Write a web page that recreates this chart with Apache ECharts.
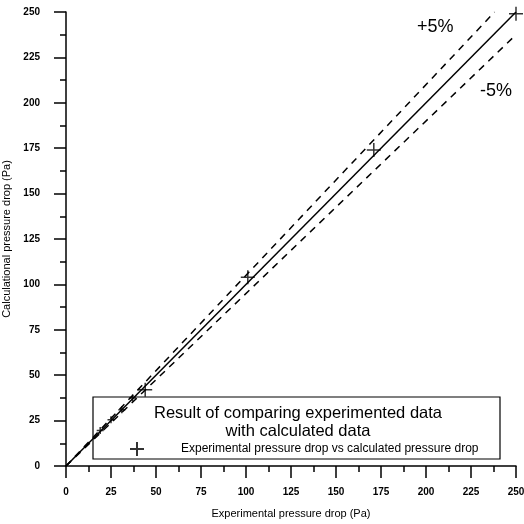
<!DOCTYPE html>
<html>
<head>
<meta charset="utf-8">
<script src="https://cdn.jsdelivr.net/npm/echarts@6/dist/echarts.min.js"></script>
<style>
  html, body { margin: 0; padding: 0; background: #fff; }
  #chart { width: 524px; height: 524px; }
</style>
</head>
<body>
<div id="chart"></div>
<script>
// measured points: [experimental, calculated]
const points = [
  [19, 19.5], [25, 25.5], [31, 31], [37, 37.5],
  [44, 42], [101, 104], [171, 174], [250, 249]
];
// reference lines (y = x, +5 %, -5 %)
const equalLine = [[0, 0], [250, 250]];
const plusLine = [[0, 0], [238.1, 250]];
const minusLine = [[0, 0], [250, 237.5]];
const axisTicks = [0, 25, 50, 75, 100, 125, 150, 175, 200, 225, 250];

const tickFont = 'Liberation Sans Narrow, Liberation Sans, sans-serif';
const chart = echarts.init(document.getElementById('chart'), null, { renderer: 'canvas' });

const axisProps = {
  min: axisTicks[0],
  max: axisTicks[axisTicks.length - 1],
  interval: 25,
  nameLocation: 'middle',
  nameTextStyle: { color: '#000', fontSize: 11, fontFamily: 'Liberation Sans, sans-serif' },
  axisLine: { show: true, onZero: false, lineStyle: { color: '#000', width: 1.5 } },
  axisTick: { show: true, inside: false, length: 12, lineStyle: { color: '#000', width: 1.5 } },
  minorTick: { show: true, splitNumber: 2, length: 6, lineStyle: { color: '#000', width: 1.5 } },
  axisLabel: { color: '#000', fontSize: 10, fontWeight: 'bold', fontFamily: tickFont, showMaxLabel: true, showMinLabel: true },
  splitLine: { show: false },
};

chart.setOption({
  animation: false,
  backgroundColor: '#fff',
  grid: { left: 66, right: 8, top: 12, bottom: 58, outerBoundsMode: 'none', containLabel: false },
  xAxis: {
    type: 'value',
    name: 'Experimental pressure drop (Pa)',
    nameGap: 42,
    ...axisProps,
    axisLabel: { ...axisProps.axisLabel, margin: 21 },
  },
  yAxis: {
    type: 'value',
    name: 'Calculational pressure drop (Pa)',
    nameGap: 50,
    ...axisProps,
    axisLabel: { ...axisProps.axisLabel, margin: 26 },
  },
  legend: {
    left: 124,
    top: 436,
    itemWidth: 14,
    itemHeight: 14,
    data: [{ name: 'Experimental pressure drop vs calculated pressure drop' }],
    textStyle: {
      color: '#000', fontSize: 12, fontFamily: 'Liberation Sans, sans-serif',
      padding: [0, 0, 0, 32],
    },
  },
  graphic: [
    {
      type: 'rect',
      z: 0,
      shape: { x: 93, y: 397, width: 407, height: 62 },
      style: { fill: 'transparent', stroke: '#000', lineWidth: 1.2 },
    },
    {
      type: 'text',
      x: 298, y: 404,
      style: {
        text: 'Result of comparing experimented data\nwith calculated data',
        fill: '#000', font: '16.5px Liberation Sans, sans-serif',
        align: 'center', lineHeight: 18,
      },
    },
    {
      type: 'text', x: 417, y: 18,
      style: { text: '+5%', fill: '#000', font: '18px Liberation Sans, sans-serif' },
    },
    {
      type: 'text', x: 480, y: 82,
      style: { text: '-5%', fill: '#000', font: '18px Liberation Sans, sans-serif' },
    },
  ],
  series: [
    {
      type: 'line', data: equalLine, showSymbol: false, silent: true, z: 2,
      lineStyle: { color: '#000', width: 1.5 },
    },
    {
      type: 'line', data: plusLine, showSymbol: false, silent: true, z: 2,
      lineStyle: { color: '#000', width: 1.5, type: [7, 6] },
    },
    {
      type: 'line', data: minusLine, showSymbol: false, silent: true, z: 2,
      lineStyle: { color: '#000', width: 1.5, type: [7, 6] },
    },
    {
      type: 'scatter',
      name: 'Experimental pressure drop vs calculated pressure drop',
      data: points,
      z: 5,
      symbol: 'path://M0,6L12,6M6,0L6,12',
      symbolSize: (v) => (v[0] < 40 ? 7 : 14),
      itemStyle: { color: 'transparent', borderColor: '#000', borderWidth: 1.5 },
    },
  ],
});
</script>
</body>
</html>
